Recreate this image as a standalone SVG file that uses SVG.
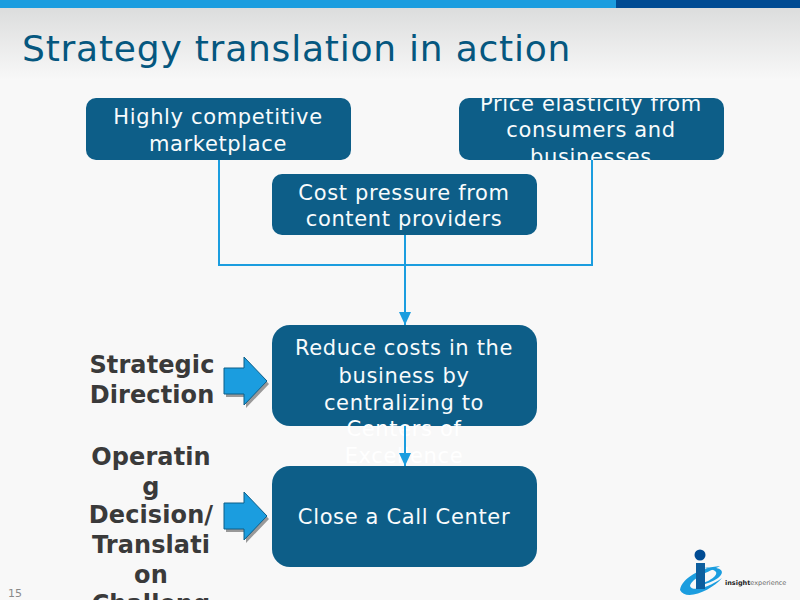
<svg xmlns="http://www.w3.org/2000/svg" width="800" height="600" viewBox="0 0 800 600">
<defs>
<linearGradient id="bg" x1="0" y1="0" x2="0" y2="1"><stop offset="0" stop-color="#dcdddd"/><stop offset="1" stop-color="#f8f8f8"/></linearGradient>
<marker id="ah" markerUnits="userSpaceOnUse" markerWidth="12" markerHeight="13" refX="6" refY="13" orient="0"><path d="M0 0H12L6 13Z" fill="#1b9ddf"/></marker>
<path id="arrow" d="M0 -13H20V-24L43 0L20 24V13H0Z"/>
</defs>
<style>
text{font-family:"DejaVu Sans",sans-serif;text-anchor:middle}
.box{fill:#0d5e88}
.t{font-size:21px;fill:#f8fbfc;letter-spacing:.65px}
.s{font-size:24px;font-weight:bold;fill:#3a3a3a;letter-spacing:.1px}
.c{fill:none;stroke:#1b9ddf;stroke-width:2}
</style>
<rect width="800" height="600" fill="#f8f8f8"/>
<rect y="8" width="800" height="72" fill="url(#bg)"/>
<rect width="616" height="8" fill="#1b9ddf"/>
<rect x="616" width="184" height="8" fill="#004b93"/>
<text id="title" x="22" y="61" style="text-anchor:start;letter-spacing:.78px" font-size="36" fill="#05577f">Strategy translation in action</text>
<g id="node-market"><rect class="box" x="86" y="98" width="265" height="62" rx="10"/><text class="t" x="218" y="124">Highly competitive</text><text class="t" x="218" y="151">marketplace</text></g>
<g id="node-price"><rect class="box" x="459" y="98" width="265" height="62" rx="10"/><svg x="440" y="98" width="300" height="62" viewBox="440 98 300 62"><text class="t" x="591" y="111">Price elasticity from</text><text class="t" x="591" y="137">consumers and</text><text class="t" x="591" y="164">businesses</text></svg></g>
<g id="node-cost"><rect class="box" x="272" y="174" width="265" height="61" rx="10"/><text class="t" x="404" y="200">Cost pressure from</text><text class="t" x="404" y="226">content providers</text></g>
<g id="node-reduce"><rect class="box" x="272" y="325" width="265" height="101" rx="18"/><text class="t" x="404" y="355">Reduce costs in the</text><text class="t" x="404" y="383">business by</text><text class="t" x="404" y="410">centralizing to</text><text class="t" x="404" y="436" style="fill:#fff">Centers of</text><text class="t" x="404" y="463" style="fill:#fff">Excellence</text></g>
<g id="node-close"><rect class="box" x="272" y="466" width="265" height="101" rx="18"/><text class="t" x="404" y="524">Close a Call Center</text></g>
<g id="connectors">
<path class="c" d="M219 160V265H592V160"/>
<path class="c" d="M405 235V325" marker-end="url(#ah)"/>
<path class="c" d="M405 426V466" marker-end="url(#ah)"/>
</g>
<g id="label-strategic"><text class="s" x="152" y="373">Strategic</text><text class="s" x="152" y="403">Direction</text></g>
<g id="label-operating"><text class="s" x="151" y="465">Operatin</text><text class="s" x="151" y="495">g</text><text class="s" x="151" y="523">Decision/</text><text class="s" x="151" y="553">Translati</text><text class="s" x="151" y="583">on</text><text class="s" x="151" y="612">Challeng</text></g>
<g id="arrow-1"><use href="#arrow" x="226" y="384" fill="#999"/><use href="#arrow" x="224" y="381" fill="#1b9ddf" stroke="#0d5e88" stroke-width="1"/></g>
<g id="arrow-2"><use href="#arrow" x="226" y="519" fill="#999"/><use href="#arrow" x="224" y="516" fill="#1b9ddf" stroke="#0d5e88" stroke-width="1"/></g>
<text id="page" x="15" y="597" font-size="11" fill="#8a8a8a">15</text>
<g id="logo">
<path d="M680 590C682 578 700 568 720 566C708 572 692 578 690 586C692 592 708 588 722 578C712 590 686 602 680 590Z" fill="#1b9ddf"/>
<path d="M704 568C722 566 726 572 718 578C712 582 702 586 700 584C708 582 718 576 716 572C714 569 708 569 704 568Z" fill="#1b9ddf"/>
<circle cx="700" cy="555" r="5.500" fill="#004b93"/>
<rect x="696" y="563" width="9" height="26" fill="#0d5e9e"/>
<text x="725" y="585" style="text-anchor:start" font-size="6.500" font-weight="bold" fill="#222">insight<tspan font-weight="normal" fill="#666">experience</tspan></text>
</g>
</svg>
